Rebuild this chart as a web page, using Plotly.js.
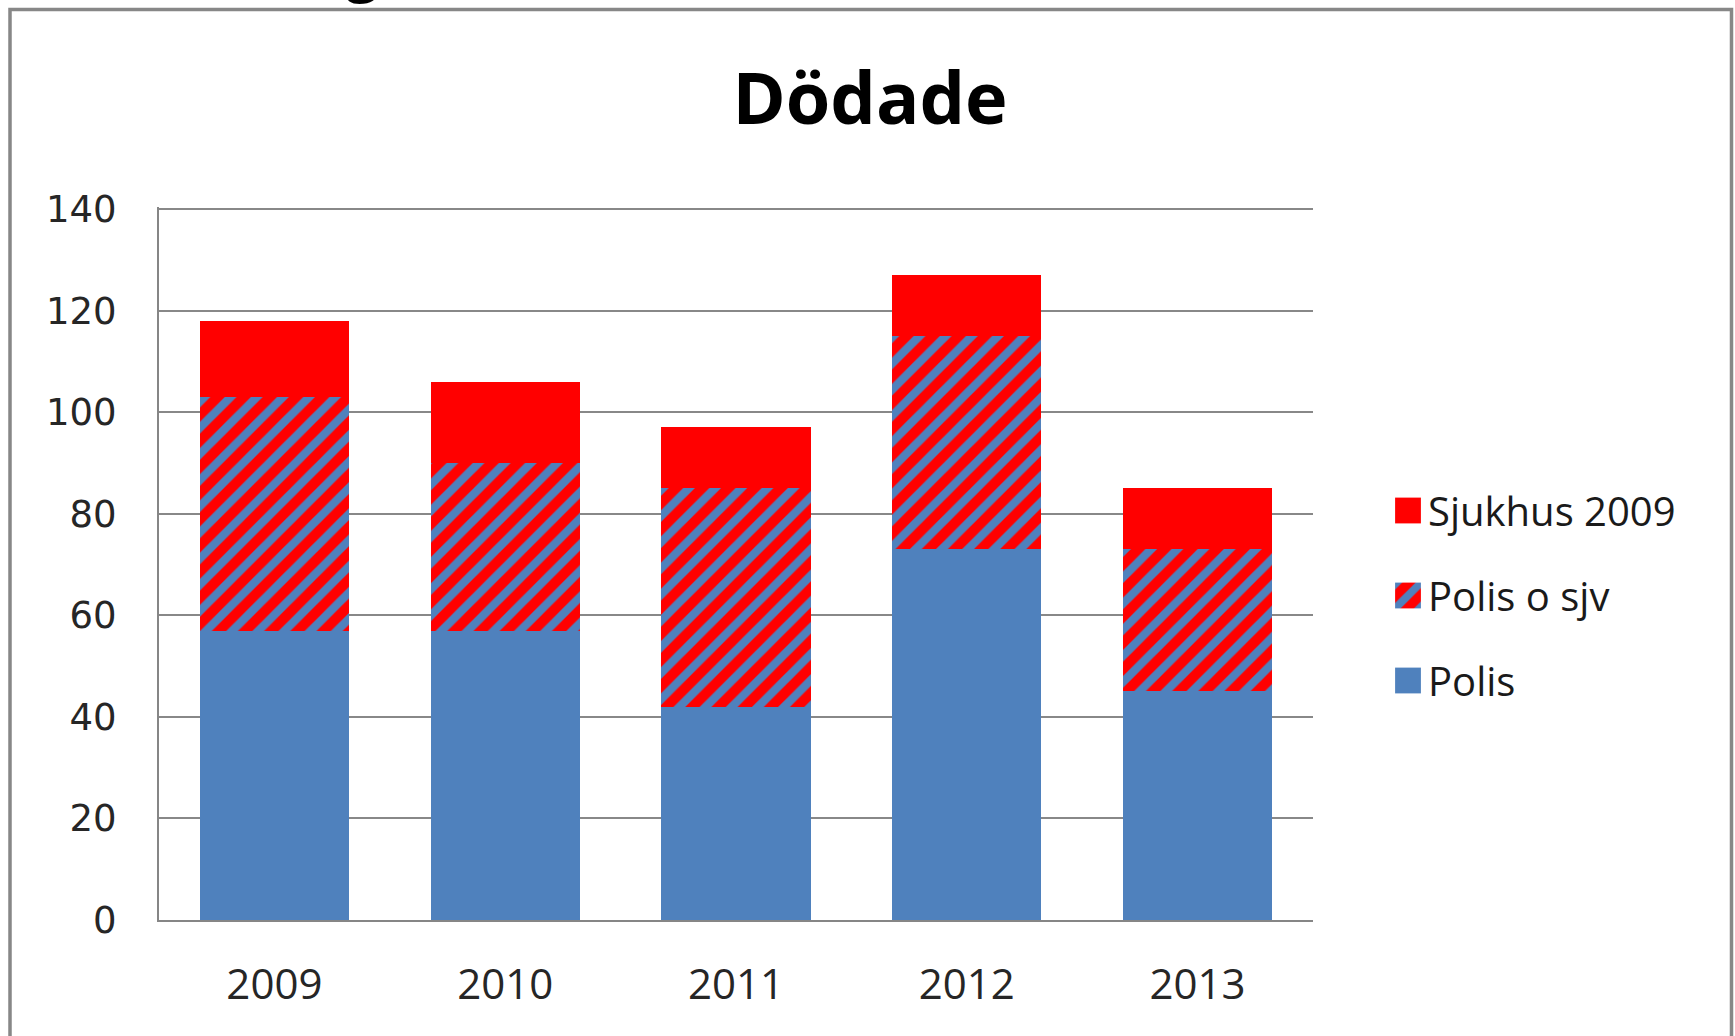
<!DOCTYPE html>
<html>
<head>
<meta charset="utf-8">
<script src="https://cdn.plot.ly/plotly-3.0.1.min.js"></script>
<style>
  html, body { margin: 0; padding: 0; background: #ffffff; overflow: hidden; }
  #chart { width: 1735px; height: 1036px; }
</style>
</head>
<body>
<div id="chart"></div>
<script>
// ---- data ----
const years = ['2009', '2010', '2011', '2012', '2013'];
const polis = [57, 57, 42, 73, 45];          // Polis
const polisSjv = [46, 33, 43, 42, 28];       // Polis o sjv (added on top of Polis)
const sjukhus = [15, 16, 12, 12, 12];        // Sjukhus 2009 (added on top)
const seriesNames = ['Polis', 'Polis o sjv', 'Sjukhus 2009'];
const chartTitle = 'Dödade';
const yTicks = [0, 20, 40, 60, 80, 100, 120, 140];

const BLUE = '#4F81BD';
const RED = '#FF0000';
const FONT = '"Open Sans", "DejaVu Sans", sans-serif';
const YFONT = '"DejaVu Sans", "Open Sans", sans-serif';

// plot area in pixels (from the reference)
const L = 159, R = 1313, T = 207, B = 920;
const W = 1735, H = 1036;
const px2x = p => (p - L) / (R - L);
const px2y = p => (B - p) / (B - T);

const traces = [
  {
    type: 'bar', name: seriesNames[0], x: years, y: polis,
    legendgroup: 'a', legendrank: 3,
    marker: { color: BLUE, line: { width: 0 } },
    hoverinfo: 'skip'
  },
  {
    type: 'bar', name: seriesNames[1], x: years, y: polisSjv,
    legendgroup: 'b', legendrank: 2,
    marker: {
      color: RED,
      line: { width: 0 },
      pattern: { shape: '/', bgcolor: RED, fgcolor: BLUE, fillmode: 'replace', size: 18.5, solidity: 0.45 }
    },
    hoverinfo: 'skip'
  },
  {
    type: 'bar', name: seriesNames[2], x: years, y: sjukhus,
    legendgroup: 'c', legendrank: 1,
    marker: { color: RED, line: { width: 0 } },
    hoverinfo: 'skip'
  }
];

const layout = {
  width: W, height: H,
  paper_bgcolor: '#ffffff', plot_bgcolor: '#ffffff',
  margin: { l: L, r: W - R, t: T, b: H - B, pad: 0 },
  barmode: 'stack',
  bargap: 0.354,
  font: { family: FONT, color: '#262626' },
  title: {
    text: '<b>' + chartTitle + '</b>',
    font: { family: FONT, size: 72, color: '#000000' },
    xref: 'container', yref: 'container',
    x: 870 / W, xanchor: 'center',
    y: 1 - 99 / H, yanchor: 'middle'
  },
  xaxis: {
    type: 'category',
    showgrid: false,
    showline: true, linecolor: '#868686', linewidth: 2,
    ticks: '', ticklabelstandoff: 27,
    tickfont: { family: FONT, size: 42, color: '#262626' },
    fixedrange: true
  },
  yaxis: {
    range: [0, 140.4],
    tickvals: yTicks,
    showgrid: true, gridcolor: '#888888', gridwidth: 2,
    zeroline: false,
    showline: true, linecolor: '#868686', linewidth: 2,
    ticks: '', ticklabelstandoff: 33,
    tickfont: { family: YFONT, size: 37, color: '#262626' },
    fixedrange: true
  },
  showlegend: true,
  legend: {
    x: px2x(1388), xanchor: 'left',
    y: px2y(478), yanchor: 'top',
    traceorder: 'grouped',
    tracegroupgap: 30,
    font: { family: FONT, size: 40, color: '#1a1a1a' },
    bgcolor: 'rgba(0,0,0,0)',
    borderwidth: 0
  },
  shapes: [
    {
      type: 'rect', xref: 'paper', yref: 'paper', layer: 'above',
      x0: px2x(10), x1: px2x(1731.5), y0: px2y(1100), y1: px2y(9.5),
      line: { color: '#878787', width: 3.5 }, fillcolor: 'rgba(0,0,0,0)'
    }
  ],
  annotations: [
    {
      text: 'g', showarrow: false,
      xref: 'paper', yref: 'paper',
      x: px2x(362), xanchor: 'center',
      y: px2y(9), yanchor: 'bottom',
      font: { family: FONT, size: 62, color: '#000000' }
    }
  ]
};

Plotly.newPlot('chart', traces, layout, { displayModeBar: false, staticPlot: true }).then(function () {
  // enlarge legend swatches to match the reference (about 25 px squares)
  document.querySelectorAll('.legend .legendpoints path').forEach(function (p) {
    const t = p.getAttribute('transform') || '';
    p.setAttribute('transform', t + ' scale(2.15)');
  });
});
</script>
</body>
</html>
